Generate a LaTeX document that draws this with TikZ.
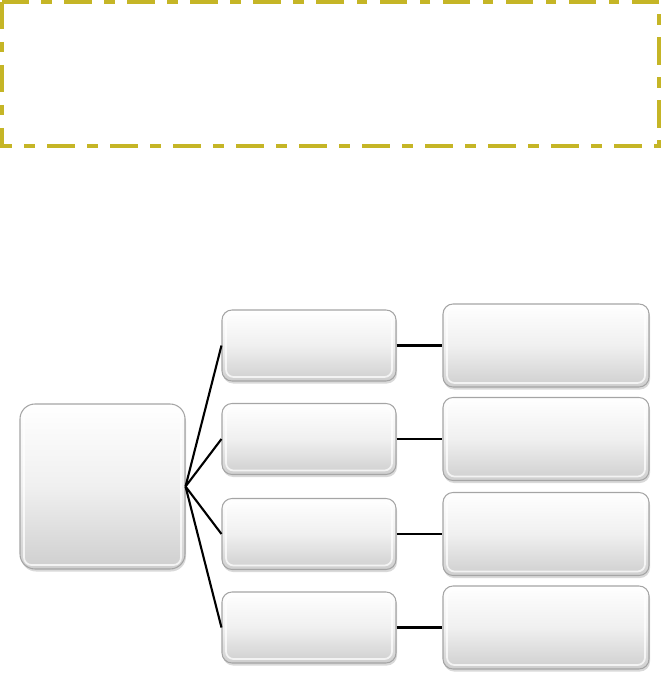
\documentclass[tikz,border=0pt]{standalone}
\usetikzlibrary{shadows}
\definecolor{olive}{RGB}{197,181,38}
\definecolor{boxline}{RGB}{165,165,165}
\begin{document}
\begin{tikzpicture}[node distance=1.87cm,
    box/.style={draw=boxline, line width=0.6pt, rectangle, rounded corners=0.2cm,
        top color=white, bottom color=black!19, middle color=black!6,
        drop shadow={opacity=0.3, shadow xshift=0.02cm, shadow yshift=-0.05cm},
        path picture={\draw[white, opacity=0.75, line width=1pt, rounded corners=0.15cm]
            ([shift={(0.08cm,0.08cm)}]path picture bounding box.south west) rectangle
            ([shift={(-0.08cm,-0.08cm)}]path picture bounding box.north east);}},
    rootbox/.style={box, rounded corners=0.3cm, minimum width=3.3cm, minimum height=3.3cm},
    midbox/.style={box, minimum width=3.48cm, minimum height=1.42cm},
    endbox/.style={box, minimum width=4.12cm, minimum height=1.66cm},
    link/.style={line width=1.2pt}]
    \useasboundingbox (0,0) rectangle (13.26,-13.58);
    \draw[olive, line width=0.08cm, dash pattern=on 0.55cm off 0.25cm on 0.21cm off 0.25cm]
        (0.04,-0.04) rectangle (13.18,-2.92);

    \node[rootbox] (root) at (2.05,-9.73) {};
    \node[midbox] (m1) at (6.18,-6.91) {};
    \node[midbox, below of=m1] (m2) {};
    \node[midbox, below of=m2, node distance=1.9cm] (m3) {};
    \node[midbox, below of=m3] (m4) {};
    \node[endbox, right of=m1, node distance=4.74cm] (r1) {};
    \node[endbox, right of=m2, node distance=4.74cm] (r2) {};
    \node[endbox, right of=m3, node distance=4.74cm] (r3) {};
    \node[endbox, right of=m4, node distance=4.74cm] (r4) {};

    \draw[link] (root.east) -- (m1.west);
    \draw[link] (root.east) -- (m2.west);
    \draw[link] (root.east) -- (m3.west);
    \draw[link] (root.east) -- (m4.west);
    \draw[link] (m1) -- (r1);
    \draw[link] (m2) -- (r2);
    \draw[link] (m3) -- (r3);
    \draw[link] (m4) -- (r4);
\end{tikzpicture}
\end{document}
